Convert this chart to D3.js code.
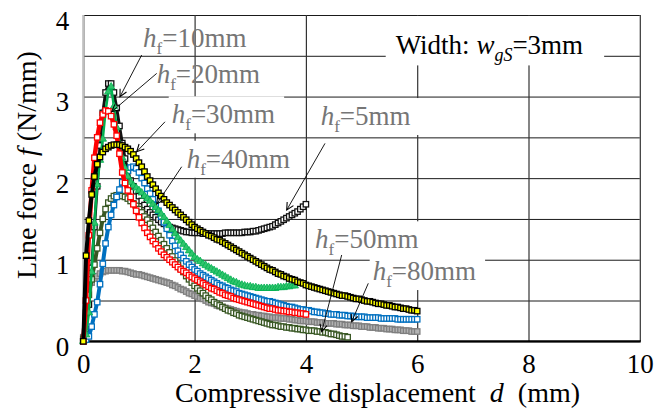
<!DOCTYPE html>
<html>
<head>
<meta charset="utf-8">
<script src="https://cdn.jsdelivr.net/npm/d3@7"></script>
<style>
  body { margin: 0; background: #fff; }
  text { font-family: "Liberation Serif", "Times New Roman", serif; }
</style>
</head>
<body>
<div id="chart"></div>
<script>
var dStep = 0.05;

var hf5 = [0, 0.15, 0.45, 0.9, 1.4, 1.9, 2.4, 2.8, 3.05, 3.16,
  3.16, 3.05, 2.86, 2.64, 2.43, 2.24, 2.09, 1.97, 1.9, 1.84,
  1.78, 1.72, 1.67, 1.62, 1.58, 1.55, 1.52, 1.49, 1.46, 1.44,
  1.42, 1.40, 1.39, 1.38, 1.37, 1.36, 1.35, 1.34, 1.34, 1.33, 1.33,
  1.33, 1.33, 1.32, 1.32, 1.32, 1.32, 1.32, 1.32, 1.32, 1.32,
  1.33, 1.33, 1.33, 1.33, 1.33, 1.33, 1.33, 1.34, 1.34, 1.34,
  1.35, 1.35, 1.36, 1.37, 1.38, 1.39, 1.40, 1.41, 1.43, 1.45,
  1.47, 1.49, 1.51, 1.53, 1.55, 1.57, 1.59, 1.62, 1.65, 1.68];

var hf10 = [0, 0.08, 0.35, 0.85, 1.45, 1.92, 2.22, 2.48, 2.82, 3.06,
  3.12, 2.88, 2.62, 2.42, 2.25, 2.12, 2.02, 1.95, 1.91, 1.88,
  1.85, 1.82, 1.78, 1.75, 1.72, 1.68, 1.64, 1.6, 1.56, 1.52,
  1.47, 1.42, 1.37, 1.32, 1.27, 1.23, 1.19, 1.15, 1.11, 1.07, 1.03,
  1.0, 0.98, 0.95, 0.93, 0.91, 0.89, 0.87, 0.85, 0.83, 0.81,
  0.79, 0.77, 0.75, 0.73, 0.72, 0.70, 0.69, 0.68, 0.67, 0.67,
  0.66, 0.66, 0.65, 0.65, 0.65, 0.65, 0.65, 0.65, 0.65, 0.66,
  0.66, 0.66, 0.67, 0.67, 0.68, 0.68];

var hf20 = [0, 0.5, 1.3, 1.85, 2.25, 2.5, 2.68, 2.78, 2.83, 2.82,
  2.76, 2.66, 2.52, 2.3, 2.07, 1.94, 1.85, 1.77, 1.68, 1.6,
  1.52, 1.45, 1.39, 1.33, 1.28, 1.23, 1.19, 1.14, 1.10, 1.06,
  1.03, 1.0, 0.97, 0.94, 0.91, 0.88, 0.86, 0.84, 0.81, 0.79, 0.77,
  0.75, 0.73, 0.71, 0.69, 0.67, 0.65, 0.64, 0.62, 0.60, 0.59,
  0.57, 0.56, 0.55, 0.53, 0.52, 0.51, 0.50, 0.49, 0.48, 0.47,
  0.46, 0.45, 0.44, 0.43, 0.42, 0.41, 0.40, 0.40, 0.39, 0.38,
  0.38, 0.37, 0.37, 0.36, 0.36, 0.35, 0.35, 0.34, 0.34, 0.33];

var hf30 = [0, 1.05, 1.48, 1.8, 2.02, 2.17, 2.26, 2.32, 2.36, 2.38,
  2.40, 2.41, 2.41, 2.41, 2.40, 2.38, 2.36, 2.33, 2.29, 2.24,
  2.19, 2.14, 2.08, 2.02, 1.97, 1.92, 1.87, 1.82, 1.78, 1.74,
  1.70, 1.67, 1.64, 1.61, 1.58, 1.55, 1.52, 1.49, 1.46, 1.43, 1.40,
  1.38, 1.36, 1.34, 1.32, 1.30, 1.29, 1.27, 1.25, 1.24, 1.22,
  1.20, 1.18, 1.16, 1.14, 1.12, 1.10, 1.08, 1.06, 1.04, 1.02,
  1.00, 0.98, 0.96, 0.94, 0.92, 0.90, 0.88, 0.87, 0.85, 0.83,
  0.82, 0.80, 0.79, 0.77, 0.76, 0.75, 0.73, 0.72, 0.71, 0.69,
  0.68, 0.67, 0.66, 0.65, 0.64, 0.63, 0.62, 0.61, 0.60, 0.59,
  0.58, 0.57, 0.56, 0.56, 0.55, 0.54, 0.53, 0.52, 0.52, 0.51,
  0.50, 0.49, 0.49, 0.48, 0.47, 0.46, 0.46, 0.45, 0.44, 0.44,
  0.43, 0.42, 0.42, 0.41, 0.40, 0.40, 0.39, 0.38, 0.38, 0.37];

var hf40 = [0, 0.02, 0.06, 0.18, 0.33, 0.48, 0.7, 0.95, 1.2, 1.4,
  1.55, 1.67, 1.77, 1.86, 1.95, 2.03, 2.09, 2.13, 2.14, 2.12,
  2.07, 2.0, 1.94, 1.87, 1.81, 1.74, 1.67, 1.6, 1.53, 1.46,
  1.38, 1.3, 1.23, 1.17, 1.11, 1.06, 1.02, 0.98, 0.94, 0.91, 0.88,
  0.86, 0.83, 0.81, 0.79, 0.77, 0.75, 0.73, 0.71, 0.69, 0.68,
  0.66, 0.65, 0.63, 0.62, 0.61, 0.59, 0.58, 0.57, 0.56, 0.55,
  0.54, 0.53, 0.52, 0.51, 0.50, 0.49, 0.49, 0.48, 0.47, 0.46,
  0.45, 0.44, 0.43, 0.42, 0.42, 0.41, 0.40, 0.39, 0.39, 0.38,
  0.38, 0.37, 0.36, 0.36, 0.35, 0.35, 0.34, 0.34, 0.33, 0.33,
  0.33, 0.32, 0.32, 0.32, 0.31, 0.31, 0.31, 0.30, 0.30, 0.30,
  0.30, 0.29, 0.29, 0.29, 0.29, 0.29, 0.28, 0.28, 0.28, 0.28,
  0.28, 0.28, 0.27, 0.27, 0.27, 0.27, 0.27, 0.27, 0.27, 0.27];

var hf50 = [0.03, 0.35, 0.57, 0.76, 0.94, 1.14, 1.33, 1.50, 1.62, 1.70,
  1.75, 1.78, 1.79, 1.79, 1.78, 1.77, 1.75, 1.72, 1.69, 1.66,
  1.62, 1.58, 1.53, 1.49, 1.44, 1.39, 1.34, 1.29, 1.24, 1.19,
  1.14, 1.09, 1.04, 0.99, 0.94, 0.89, 0.85, 0.80, 0.76, 0.72, 0.68,
  0.65, 0.62, 0.59, 0.56, 0.53, 0.51, 0.48, 0.46, 0.44, 0.42,
  0.40, 0.38, 0.37, 0.35, 0.34, 0.32, 0.31, 0.30, 0.29, 0.28,
  0.27, 0.26, 0.25, 0.24, 0.23, 0.22, 0.21, 0.20, 0.20, 0.19,
  0.18, 0.18, 0.17, 0.17, 0.16, 0.16, 0.15, 0.15, 0.14, 0.14,
  0.13, 0.13, 0.13, 0.12, 0.12, 0.11, 0.11, 0.10, 0.09, 0.09,
  0.08, 0.07, 0.06, 0.06, 0.05];

var hf80 = [0.05, 0.5, 0.65, 0.72, 0.77, 0.8, 0.83, 0.85, 0.86, 0.87,
  0.87, 0.87, 0.87, 0.87, 0.86, 0.86, 0.85, 0.84, 0.83, 0.82,
  0.82, 0.81, 0.80, 0.79, 0.78, 0.77, 0.76, 0.75, 0.74, 0.73,
  0.72, 0.71, 0.69, 0.68, 0.66, 0.64, 0.63, 0.61, 0.59, 0.58, 0.56,
  0.55, 0.53, 0.52, 0.50, 0.48, 0.47, 0.46, 0.44, 0.43, 0.42,
  0.41, 0.40, 0.39, 0.38, 0.37, 0.36, 0.35, 0.35, 0.34, 0.33,
  0.33, 0.32, 0.32, 0.31, 0.31, 0.30, 0.30, 0.29, 0.29, 0.29,
  0.28, 0.28, 0.28, 0.27, 0.27, 0.26, 0.26, 0.25, 0.25, 0.25,
  0.24, 0.24, 0.24, 0.23, 0.23, 0.23, 0.22, 0.22, 0.22, 0.22,
  0.21, 0.21, 0.21, 0.20, 0.20, 0.20, 0.19, 0.19, 0.19, 0.18,
  0.18, 0.18, 0.17, 0.17, 0.17, 0.16, 0.16, 0.16, 0.15, 0.15,
  0.15, 0.14, 0.14, 0.14, 0.13, 0.13, 0.13, 0.12, 0.12, 0.12];

var xTicks = [0, 2, 4, 6, 8, 10];
var yTicks = [0, 1, 2, 3, 4];
var yGrid = [0, 0.5, 1, 1.5, 2, 2.5, 3, 3.5, 4];

// annotation labels: value of h_f, text anchor and arrow (in data units)
var annoHf    = ["10", "20", "30", "40", "5", "50", "80"];
var annoTextX = [1.073, 1.319, 1.589, 1.858, 4.266, 4.164, 5.200];
var annoTextY = [3.607, 3.169, 2.672, 2.127, 2.651, 1.140, 0.751];
var annoFromX = [1.049, 1.319, 1.468, 1.768, 4.343, 4.643, 5.121];
var annoFromY = [3.509, 3.284, 2.691, 2.140, 2.426, 1.058, 0.711];
var annoToX   = [0.659, 0.510, 0.960, 1.319, 3.655, 4.284, 4.823];
var annoToY   = [2.998, 2.814, 2.324, 1.683, 1.609, 0.118, 0.240];
var annoBoxed = [false, false, true, true, true, true, true];

// ---- layout ----
var svgWidth = 656;
var svgHeight = 411;
var margin = { top: 15, right: 16.2, bottom: 69.7, left: 83.3 };
var width = svgWidth - margin.left - margin.right;
var height = svgHeight - margin.top - margin.bottom;

var svg = d3.select("#chart")
  .append("svg")
  .attr("width", svgWidth)
  .attr("height", svgHeight)
  .style("background", "#fff");

var chart = svg.append("g")
  .attr("transform", `translate(${margin.left}, ${margin.top})`);

var xScale = d3.scaleLinear().domain([0, 10]).range([0, width]);
var yScale = d3.scaleLinear().domain([0, 4]).range([height, 0]);

// grid lines
chart.append("g")
  .call(d3.axisLeft(yScale).tickValues(yGrid).tickSize(-width).tickFormat(""))
  .call(g => g.select(".domain").remove())
  .selectAll("line").attr("stroke", "#1a1a1a").attr("stroke-width", 1);

chart.append("g")
  .attr("transform", `translate(0, ${height})`)
  .call(d3.axisBottom(xScale).tickValues(xTicks).tickSize(-height).tickFormat(""))
  .call(g => g.select(".domain").remove())
  .selectAll("line").attr("stroke", "#333").attr("stroke-width", 1.2);

// axis lines
chart.append("line")
  .attr("x1", 0).attr("x2", 0).attr("y1", 0).attr("y2", height)
  .attr("stroke", "#bfbfbf").attr("stroke-width", 2.2);
chart.append("line")
  .attr("x1", -1).attr("x2", width + 1).attr("y1", height).attr("y2", height)
  .attr("stroke", "#000").attr("stroke-width", 2.2);

// tick labels
chart.append("g")
  .attr("transform", `translate(0, ${height})`)
  .call(d3.axisBottom(xScale).tickValues(xTicks).tickSize(0).tickPadding(12.5))
  .call(g => g.select(".domain").remove())
  .selectAll("text")
  .style("font-family", "'Liberation Serif', serif")
  .style("font-size", "27px").attr("fill", "#000");

chart.append("g")
  .call(d3.axisLeft(yScale).tickValues(yTicks).tickSize(0).tickPadding(14).tickFormat(d3.format("d")))
  .call(g => g.select(".domain").remove())
  .selectAll("text")
  .attr("dy", "0.52em")
  .style("font-family", "'Liberation Serif', serif")
  .style("font-size", "27px").attr("fill", "#000");

// axis titles
var yTitle = chart.append("text")
  .attr("transform", `translate(${36 - margin.left}, ${165 - margin.top}) rotate(-90)`)
  .attr("text-anchor", "middle")
  .style("font-size", "28px");
yTitle.append("tspan").text("Line force ");
yTitle.append("tspan").style("font-style", "italic").text("f");
yTitle.append("tspan").text(" (N/mm)");

var xTitle = chart.append("text")
  .attr("x", 377.5 - margin.left)
  .attr("y", 401.7 - margin.top)
  .attr("text-anchor", "middle")
  .style("font-size", "28px")
  .attr("xml:space", "preserve");
xTitle.append("tspan").text("Compressive displacement  ");
xTitle.append("tspan").style("font-style", "italic").text("d");
xTitle.append("tspan").text("  (mm)");

// layers
var boxLayer = chart.append("g");
var dataLayer = chart.append("g");
var labelLayer = chart.append("g");

// series styles (drawing order: first is at the bottom)
var seriesList = [
  { name: "hf5",  values: hf5,  stroke: "#111111", fill: "#ffffff", shape: "square", lw: 3 },
  { name: "hf80", values: hf80, stroke: "#7f7f7f", fill: "#b3b3b3", shape: "square", lw: 4 },
  { name: "hf50", values: hf50, stroke: "#385723", fill: "#ffffff", shape: "square", lw: 4 },
  { name: "hf40", values: hf40, stroke: "#0070c0", fill: "#ffffff", shape: "square", lw: 4 },
  { name: "hf10", values: hf10, stroke: "#00b050", fill: "#2fc46b", shape: "triangle", lw: 2.5 },
  { name: "hf20", values: hf20, stroke: "#ff0000", fill: "#ffffff", shape: "square", lw: 4.5 },
  { name: "hf30", values: hf30, stroke: "#000000", fill: "#ffff00", shape: "square", lw: 4 }
];

var line = d3.line()
  .x((d, i) => xScale(i * dStep))
  .y(d => yScale(d));

var tri = d3.symbol().type(d3.symbolTriangle).size(24);
var mSize = 5.4;

seriesList.forEach(function(s) {
  var g = dataLayer.append("g").attr("class", s.name);
  g.append("path")
    .datum(s.values)
    .attr("d", line)
    .attr("fill", "none")
    .attr("stroke", s.stroke)
    .attr("stroke-width", s.lw)
    .attr("stroke-linejoin", "round");
  if (s.shape === "square") {
    g.selectAll("rect")
      .data(s.values)
      .enter()
      .append("rect")
      .attr("x", (d, i) => xScale(i * dStep) - mSize / 2)
      .attr("y", d => yScale(d) - mSize / 2)
      .attr("width", mSize)
      .attr("height", mSize)
      .attr("fill", s.fill)
      .attr("stroke", s.stroke)
      .attr("stroke-width", 1.3);
  } else {
    g.selectAll("path.pt")
      .data(s.values)
      .enter()
      .append("path")
      .attr("class", "pt")
      .attr("d", tri)
      .attr("transform", (d, i) => `translate(${xScale(i * dStep)}, ${yScale(d)})`)
      .attr("fill", s.fill)
      .attr("stroke", s.stroke)
      .attr("stroke-width", 0.8);
  }
});

// arrow head
svg.append("defs").append("marker")
  .attr("id", "arrow")
  .attr("viewBox", "0 0 10 10")
  .attr("refX", 9).attr("refY", 5)
  .attr("markerWidth", 9).attr("markerHeight", 9)
  .attr("markerUnits", "userSpaceOnUse")
  .attr("orient", "auto")
  .append("path")
  .attr("d", "M1,1 L9,5 L1,9")
  .attr("fill", "none")
  .attr("stroke", "#000")
  .attr("stroke-width", 1.2);

// annotations
annoHf.forEach(function(hf, i) {
  var t = labelLayer.append("text")
    .attr("x", xScale(annoTextX[i]))
    .attr("y", yScale(annoTextY[i]))
    .attr("fill", "#767676")
    .style("font-size", "27px");
  t.append("tspan").style("font-style", "italic").text("h");
  t.append("tspan").attr("dy", 7).style("font-size", "17px").text("f");
  t.append("tspan").attr("dy", -7).text("=" + hf + "mm");

  if (annoBoxed[i]) {
    var bb = t.node().getBBox();
    boxLayer.append("rect")
      .attr("x", bb.x - 3).attr("y", bb.y - 3)
      .attr("width", bb.width + 12).attr("height", bb.height + 2)
      .attr("fill", "#fff");
  }

  labelLayer.append("line")
    .attr("x1", xScale(annoFromX[i])).attr("y1", yScale(annoFromY[i]))
    .attr("x2", xScale(annoToX[i])).attr("y2", yScale(annoToY[i]))
    .attr("stroke", "#000").attr("stroke-width", 0.9)
    .attr("marker-end", "url(#arrow)");
});

// width label
var wText = labelLayer.append("text")
  .attr("x", xScale(5.614))
  .attr("y", yScale(3.517))
  .attr("fill", "#000")
  .style("font-size", "27px");
wText.append("tspan").text("Width: ");
wText.append("tspan").style("font-style", "italic").text("w");
wText.append("tspan").attr("dy", 7).style("font-size", "18px").style("font-style", "italic").text("gS");
wText.append("tspan").attr("dy", -7).text("=3mm");
var wb = wText.node().getBBox();
boxLayer.append("rect")
  .attr("x", wb.x - 10).attr("y", 1)
  .attr("width", wb.width + 31).attr("height", wb.y + wb.height - 1)
  .attr("fill", "#fff");
</script>
</body>
</html>
